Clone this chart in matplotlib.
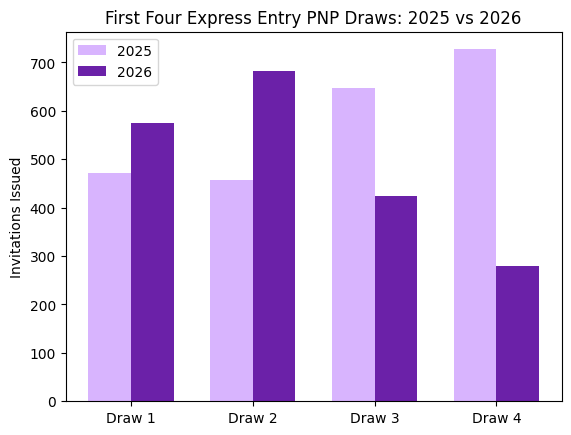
import numpy as np
import matplotlib
matplotlib.use("Agg")
import matplotlib.pyplot as plt

draws = ["Draw 1", "Draw 2", "Draw 3", "Draw 4"]
invites_2025 = [471, 457, 647, 727]
invites_2026 = [574, 682, 424, 279]

x = np.arange(len(draws))
width = 0.35

fig, ax = plt.subplots(figsize=(6.4, 4.8), dpi=100)
ax.bar(x - width / 2, invites_2025, width, label="2025", color="#D8B4FE")
ax.bar(x + width / 2, invites_2026, width, label="2026", color="#6B21A8")

ax.set_xticks(x)
ax.set_xticklabels(draws)
ax.set_ylabel("Invitations Issued")
ax.set_title("First Four Express Entry PNP Draws: 2025 vs 2026")
ax.legend(loc="upper left")

fig.savefig("out.png", dpi=100, bbox_inches="tight")
